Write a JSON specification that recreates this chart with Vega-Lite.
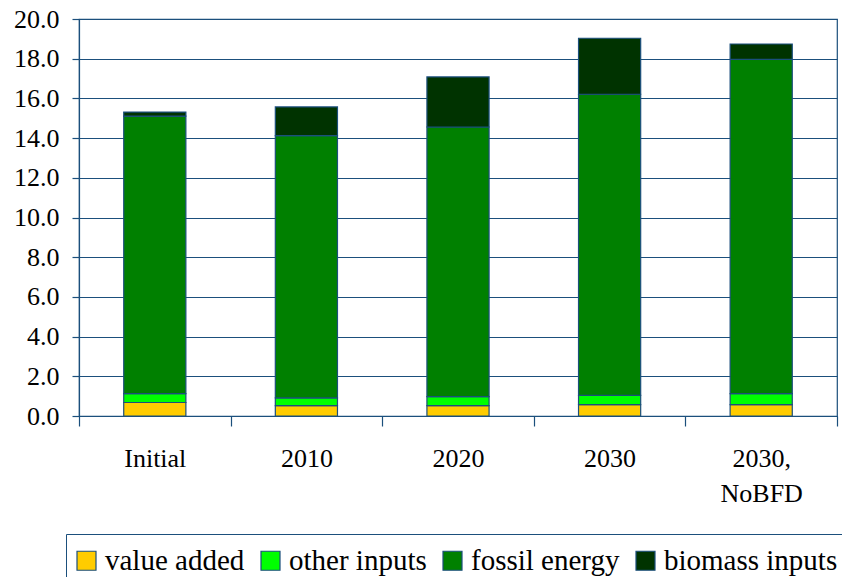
{
  "$schema": "https://vega.github.io/schema/vega-lite/v6.json",
  "autosize": "none",
  "width": 758,
  "height": 397,
  "padding": {"left": 79, "top": 19, "right": 5, "bottom": 161},
  "background": "white",
  "config": {
    "font": "Liberation Serif",
    "view": {"stroke": "#1B4F7C", "strokeWidth": 1.2},
    "axis": {
      "domainColor": "#1B4F7C",
      "tickColor": "#1B4F7C",
      "gridColor": "#1B4F7C",
      "domainWidth": 1.2,
      "tickWidth": 1.2,
      "gridWidth": 1.2,
      "labelFont": "Liberation Serif",
      "labelFontSize": 26,
      "labelColor": "black",
      "title": null
    }
  },
  "data": {
    "values": [
      {"scenario": "Initial", "component": "value added", "k": 1, "value": 0.68},
      {"scenario": "Initial", "component": "other inputs", "k": 2, "value": 0.45},
      {"scenario": "Initial", "component": "fossil energy", "k": 3, "value": 13.98},
      {"scenario": "Initial", "component": "biomass inputs", "k": 4, "value": 0.2},
      {"scenario": "2010", "component": "value added", "k": 1, "value": 0.52},
      {"scenario": "2010", "component": "other inputs", "k": 2, "value": 0.39},
      {"scenario": "2010", "component": "fossil energy", "k": 3, "value": 13.21},
      {"scenario": "2010", "component": "biomass inputs", "k": 4, "value": 1.45},
      {"scenario": "2020", "component": "value added", "k": 1, "value": 0.52},
      {"scenario": "2020", "component": "other inputs", "k": 2, "value": 0.46},
      {"scenario": "2020", "component": "fossil energy", "k": 3, "value": 13.58},
      {"scenario": "2020", "component": "biomass inputs", "k": 4, "value": 2.52},
      {"scenario": "2030", "component": "value added", "k": 1, "value": 0.57},
      {"scenario": "2030", "component": "other inputs", "k": 2, "value": 0.47},
      {"scenario": "2030", "component": "fossil energy", "k": 3, "value": 15.17},
      {"scenario": "2030", "component": "biomass inputs", "k": 4, "value": 2.82},
      {"scenario": "2030, NoBFD", "component": "value added", "k": 1, "value": 0.57},
      {"scenario": "2030, NoBFD", "component": "other inputs", "k": 2, "value": 0.56},
      {"scenario": "2030, NoBFD", "component": "fossil energy", "k": 3, "value": 16.84},
      {"scenario": "2030, NoBFD", "component": "biomass inputs", "k": 4, "value": 0.77}
    ]
  },
  "mark": {"type": "bar", "width": {"band": 0.41}, "stroke": "#1B4F7C", "strokeWidth": 1.2},
  "encoding": {
    "x": {
      "field": "scenario",
      "type": "nominal",
      "sort": null,
      "scale": {"paddingInner": 0, "paddingOuter": 0},
      "axis": {
        "labelAngle": 0,
        "tickBand": "extent",
        "tickSize": 10,
        "labelPadding": 19,
        "labelLineHeight": 35,
        "labelExpr": "datum.label == '2030, NoBFD' ? ['2030,', 'NoBFD'] : datum.label",
        "grid": false
      }
    },
    "y": {
      "field": "value",
      "type": "quantitative",
      "aggregate": "sum",
      "stack": "zero",
      "scale": {"domain": [0, 20], "nice": false},
      "axis": {
        "values": [0, 2, 4, 6, 8, 10, 12, 14, 16, 18, 20],
        "format": ".1f",
        "tickSize": 7,
        "labelPadding": 13,
        "grid": true
      }
    },
    "color": {
      "field": "component",
      "type": "nominal",
      "scale": {
        "domain": ["value added", "other inputs", "fossil energy", "biomass inputs"],
        "range": ["#FFCC00", "#00FF00", "#008000", "#003300"]
      },
      "legend": {
        "title": null,
        "orient": "none",
        "legendX": -13,
        "legendY": 515,
        "direction": "horizontal",
        "strokeColor": "#1B4F7C",
        "padding": 12,
        "symbolType": "square",
        "symbolSize": 361,
        "symbolOffset": -6,
        "symbolStrokeColor": "#1B4F7C",
        "symbolStrokeWidth": 1.2,
        "labelFont": "Liberation Serif",
        "labelFontSize": 29,
        "labelColor": "black",
        "labelOffset": 4,
        "columnPadding": 13,
        "labelLimit": 0
      }
    },
    "order": {"field": "k", "type": "quantitative", "sort": "ascending"}
  }
}
